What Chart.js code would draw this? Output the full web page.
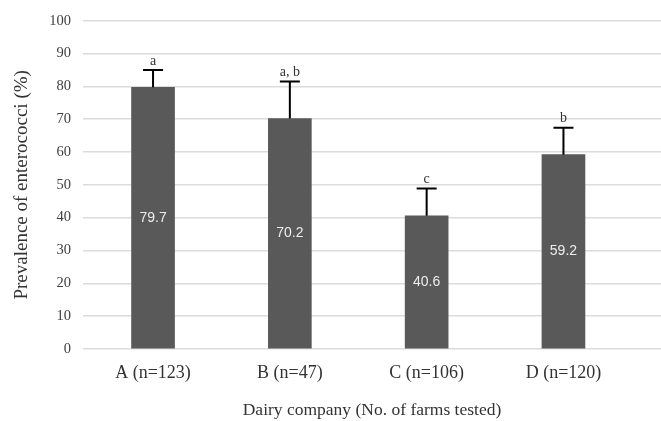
<!DOCTYPE html>
<html>
<head>
    <meta charset="utf-8" />
    <title>Enterococci prevalence</title>
    <style>
        html, body { margin: 0; padding: 0; background: #fff; }
        #chartBox { width: 661px; height: 421px; }
    </style>
</head>
<body>
    <div id="chartBox">
        <canvas id="prevChart" width="661" height="421"></canvas>
    </div>

    <script src="https://cdn.jsdelivr.net/npm/chart.js"></script>
    <script>
        // values
        const categories = ['A (n=123)', 'B (n=47)', 'C (n=106)', 'D (n=120)'];
        const prevalence = [79.7, 70.2, 40.6, 59.2];
        const errorUp = [5.3, 11.3, 8.3, 8.2];
        const sigLetters = ['a', 'a, b', 'c', 'b'];
        const yTicks = [0, 10, 20, 30, 40, 50, 60, 70, 80, 90, 100];

        const serif = '"Liberation Serif", "Times New Roman", serif';

        // error bars, significance letters and value labels
        const extrasPlugin = {
            id: 'extras',
            afterDatasetsDraw(chart) {
                const ctx = chart.ctx;
                const yScale = chart.scales.y;
                const bars = chart.getDatasetMeta(0).data;
                ctx.save();
                bars.forEach((bar, i) => {
                    const top = yScale.getPixelForValue(prevalence[i] + errorUp[i]);
                    ctx.strokeStyle = '#000';
                    ctx.lineWidth = 2;
                    ctx.beginPath();
                    ctx.moveTo(bar.x, bar.y);
                    ctx.lineTo(bar.x, top);
                    ctx.moveTo(bar.x - 10, top);
                    ctx.lineTo(bar.x + 10, top);
                    ctx.stroke();

                    ctx.fillStyle = '#333';
                    ctx.font = '14px ' + serif;
                    ctx.textAlign = 'center';
                    ctx.textBaseline = 'bottom';
                    ctx.fillText(sigLetters[i], bar.x, top - 2);

                    ctx.fillStyle = '#ededed';
                    ctx.font = '14px "Liberation Sans", Arial, sans-serif';
                    ctx.textBaseline = 'middle';
                    ctx.fillText(prevalence[i].toFixed(1), bar.x, (bar.y + bar.base) / 2);
                });
                ctx.restore();
            }
        };

        const ctx = document.getElementById('prevChart').getContext('2d');
        const chart = new Chart(ctx, {
            type: 'bar',
            data: {
                datasets: [{
                    data: prevalence.map((v, i) => ({ x: i, y: v })),
                    backgroundColor: '#595959',
                    barThickness: 43
                }]
            },
            plugins: [extrasPlugin],
            options: {
                responsive: false,
                animation: false,
                layout: { padding: { left: 4, right: 0, top: 20, bottom: 0 } },
                plugins: {
                    legend: { display: false },
                    tooltip: { enabled: false }
                },
                scales: {
                    x: {
                        type: 'linear',
                        offset: false,
                        min: -0.512,
                        max: 3.713,
                        afterBuildTicks: s => { s.ticks = categories.map((c, i) => ({ value: i })); },
                        afterFit: s => { s.height = 72; },
                        grid: { display: false },
                        border: { display: false },
                        ticks: {
                            autoSkip: false,
                            maxRotation: 0,
                            padding: 5,
                            color: '#333',
                            font: { family: serif, size: 18 },
                            callback: v => categories[v]
                        },
                        title: {
                            display: true,
                            text: 'Dairy company (No. of farms tested)',
                            color: '#333',
                            font: { family: serif, size: 17.5 },
                            padding: { top: 0, bottom: 0 }
                        }
                    },
                    y: {
                        min: 0,
                        max: 100,
                        afterBuildTicks: s => { s.ticks = yTicks.map(v => ({ value: v })); },
                        afterFit: s => { s.width = 79; },
                        grid: { color: '#dcdcdc', lineWidth: 1.5, drawTicks: false },
                        border: { display: false },
                        ticks: {
                            padding: 12,
                            color: '#404040',
                            font: { family: serif, size: 14.5 }
                        },
                        title: {
                            display: true,
                            text: 'Prevalence of enterococci (%)',
                            color: '#333',
                            font: { family: serif, size: 19 },
                            padding: { top: 7, bottom: 0 }
                        }
                    }
                }
            }
        });
    </script>
</body>
</html>
